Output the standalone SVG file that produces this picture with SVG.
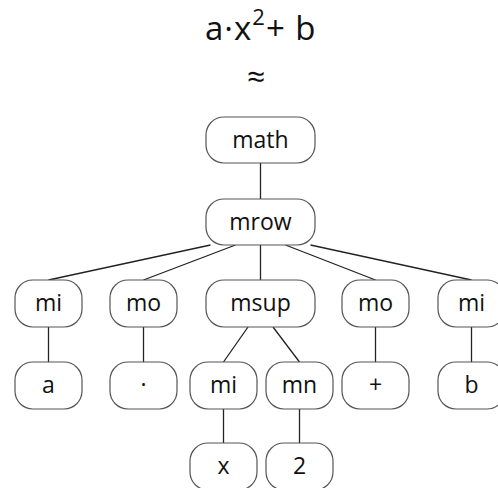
<svg xmlns="http://www.w3.org/2000/svg" width="498" height="488" viewBox="0 0 498 488">
<style>
.n rect{fill:#fff;stroke:#555;stroke-width:1.2}
.n text{font-family:"Open Sans","Noto Sans",sans-serif;font-size:23px;fill:#111;text-anchor:middle}
#edges line{stroke:#222;stroke-width:1.3}
.t{font-family:"Open Sans","Noto Sans",sans-serif;fill:#111}
</style>
<rect width="498" height="488" fill="#fff"/>
<text class="t" x="205" y="40" font-size="33" letter-spacing="1">a·x<tspan dy="-15" font-size="22">2</tspan><tspan dy="15">+ b</tspan></text>
<text class="t" x="256" y="88" font-size="32" text-anchor="middle">≈</text>
<g id="edges">
<line x1="260.5" y1="163" x2="260.5" y2="199"/>
<line x1="210.5" y1="245" x2="48.5" y2="280"/>
<line x1="235.5" y1="245" x2="143.5" y2="280"/>
<line x1="260.5" y1="245" x2="260.5" y2="280"/>
<line x1="285.5" y1="245" x2="375.5" y2="280"/>
<line x1="310.5" y1="245" x2="471.5" y2="280"/>
<line x1="48.5" y1="327" x2="48.5" y2="362"/>
<line x1="143.5" y1="327" x2="143.5" y2="362"/>
<line x1="248" y1="327" x2="223.5" y2="362"/>
<line x1="273" y1="327" x2="299.5" y2="362"/>
<line x1="375.5" y1="327" x2="375.5" y2="362"/>
<line x1="471.5" y1="327" x2="471.5" y2="362"/>
<line x1="223.5" y1="409" x2="223.5" y2="443"/>
<line x1="299.5" y1="409" x2="299.5" y2="443"/>
</g>
<g id="math" class="n"><rect x="206" y="117" width="109" height="46" rx="18"/><text x="260.5" y="148">math</text></g>
<g id="mrow" class="n"><rect x="206" y="199" width="109" height="46" rx="18"/><text x="260.5" y="230">mrow</text></g>
<g id="mi1" class="n"><rect x="15" y="280" width="67" height="47" rx="18"/><text x="48.5" y="311">mi</text></g>
<g id="mo1" class="n"><rect x="110" y="280" width="67" height="47" rx="18"/><text x="143.5" y="311">mo</text></g>
<g id="msup" class="n"><rect x="206" y="280" width="109" height="47" rx="18"/><text x="260.5" y="311">msup</text></g>
<g id="mo2" class="n"><rect x="342" y="280" width="67" height="47" rx="18"/><text x="375.5" y="311">mo</text></g>
<g id="mi2" class="n"><rect x="438" y="280" width="67" height="47" rx="18"/><text x="471.5" y="311">mi</text></g>
<g id="a" class="n"><rect x="15" y="362" width="67" height="47" rx="18"/><text x="48.5" y="393">a</text></g>
<g id="dot" class="n"><rect x="110" y="362" width="67" height="47" rx="18"/><text x="143.5" y="393">·</text></g>
<g id="mi3" class="n"><rect x="190" y="362" width="67" height="47" rx="18"/><text x="223.5" y="393">mi</text></g>
<g id="mn" class="n"><rect x="266" y="362" width="67" height="47" rx="18"/><text x="299.5" y="393">mn</text></g>
<g id="plus" class="n"><rect x="342" y="362" width="67" height="47" rx="18"/><text x="375.5" y="393">+</text></g>
<g id="b" class="n"><rect x="438" y="362" width="67" height="47" rx="18"/><text x="471.5" y="393">b</text></g>
<g id="x" class="n"><rect x="190" y="443" width="67" height="47" rx="18"/><text x="223.5" y="474">x</text></g>
<g id="two" class="n"><rect x="266" y="443" width="67" height="47" rx="18"/><text x="299.5" y="474">2</text></g>
</svg>
